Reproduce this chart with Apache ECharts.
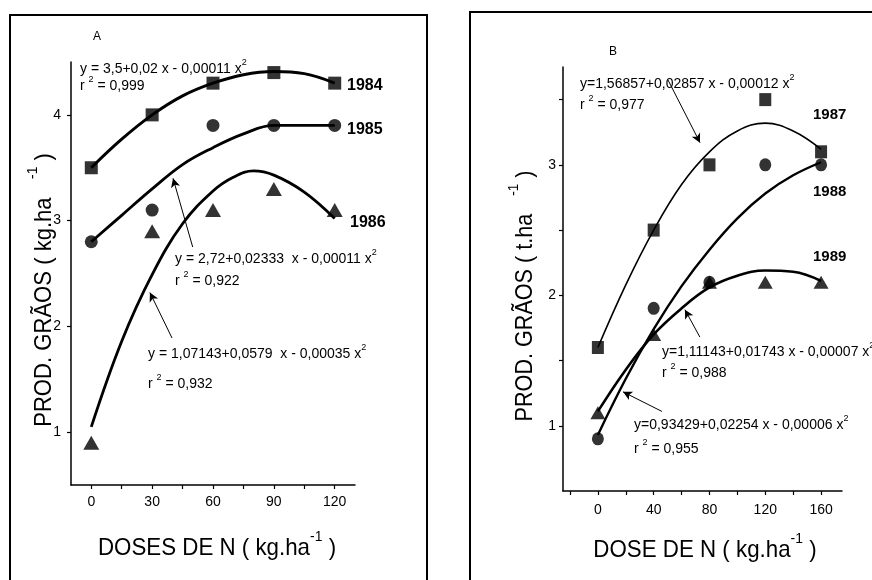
<!DOCTYPE html>
<html>
<head>
<meta charset="utf-8">
<script src="https://cdn.jsdelivr.net/npm/echarts@6/dist/echarts.min.js"></script>
<style>html,body{margin:0;padding:0;background:#fff;}#c{width:872px;height:580px;}</style>
</head>
<body>
<div id="c"></div>
<script>
// ---- Panel A data (kg/ha doses 0-120) ----
const dosesA = [0, 30, 60, 90, 120];
const y1984 = [3.5, 4.0, 4.3, 4.4, 4.3];
const y1985 = [2.8, 3.1, 3.9, 3.9, 3.9];
const y1986 = [0.9, 2.9, 3.1, 3.3, 3.1];
const fitXA = [0, 15, 30, 45, 60, 75, 90, 105, 120];
const fit1984 = [3.5, 3.77, 4.0, 4.18, 4.3, 4.38, 4.41, 4.39, 4.3];
const fit1985 = [2.8, 3.05, 3.3, 3.53, 3.69, 3.82, 3.9, 3.9, 3.9];
const fitXA86 = [0, 15, 30, 45, 60, 70, 80, 90, 105, 120];
const fit1986 = [1.05, 1.86, 2.49, 2.97, 3.28, 3.41, 3.47, 3.43, 3.27, 3.02];
const xLabelsA = [0, 30, 60, 90, 120];
const xTicksA = [0, 15, 30, 45, 60, 75, 90, 105, 120];
const yLabelsA = [1, 2, 3, 4];

// ---- Panel B data (doses 0-160) ----
const dosesB = [0, 40, 80, 120, 160];
const y1987 = [1.6, 2.5, 3.0, 3.5, 3.1];
const y1988 = [0.9, 1.9, 2.1, 3.0, 3.0];
const y1989 = [1.1, 1.7, 2.1, 2.1, 2.1];
const fitXB = [0, 20, 40, 60, 80, 100, 120, 140, 160];
const fit1987 = [1.6, 2.08, 2.5, 2.85, 3.1, 3.26, 3.32, 3.26, 3.12];
const fit1988 = [0.93, 1.36, 1.74, 2.07, 2.35, 2.59, 2.78, 2.92, 3.02];
const fit1989 = [1.11, 1.43, 1.7, 1.9, 2.06, 2.15, 2.19, 2.18, 2.11];
const xLabelsB = [0, 40, 80, 120, 160];
const xTicksB = [-20, 0, 20, 40, 60, 80, 100, 120, 140, 160];
const yLabelsB = [1, 2, 3];
const yTicksB = [1, 1.5, 2, 2.5, 3, 3.5];

const FF = '"Liberation Sans", Arial, sans-serif';
const pairs = (xs, ys) => xs.map((x, i) => [x, ys[i]]);

function txt(x, y, parts, size, opts) {
  opts = opts || {};
  let s = '';
  parts.forEach(p => { s += p[1] ? '{s|' + p[0] + '}' : '{n|' + p[0] + '}'; });
  return {
    type: 'text', x: x, y: y, z: 100,
    rotation: opts.rotation || 0,
    scaleX: opts.scaleX || 1,
    style: {
      text: s,
      textAlign: opts.align || 'left',
      textVerticalAlign: 'middle',
      fill: '#000',
      rich: {
        n: { fontSize: size, fontFamily: FF, fontWeight: opts.bold ? 'bold' : 'normal', lineHeight: size * 1.3, verticalAlign: 'bottom', fill: '#000' },
        s: { fontSize: Math.round(size * 0.62), fontFamily: FF, fontWeight: opts.bold ? 'bold' : 'normal', lineHeight: size * 1.3, verticalAlign: 'top', fill: '#000' }
      }
    }
  };
}

function arrow(xi, yi, p0, p1) {
  return {
    type: 'line', xAxisIndex: xi, yAxisIndex: yi, data: [], silent: true,
    markLine: {
      silent: true, animation: false,
      symbol: ['none', 'arrow'], symbolSize: [7, 9],
      lineStyle: { color: '#000', width: 1, type: 'solid' },
      label: { show: false },
      data: [[{ coord: p0 }, { coord: p1 }]]
    }
  };
}

const axisCommon = {
  axisLine: { show: true, onZero: false, lineStyle: { color: '#000', width: 1.5 } },
  splitLine: { show: false },
  axisTick: { show: true, inside: false, length: 4, lineStyle: { color: '#000', width: 1.2 } },
  axisLabel: { color: '#000', fontSize: 14, fontFamily: FF }
};

const chart = echarts.init(document.getElementById('c'), null, { renderer: 'canvas' });
chart.setOption({
  backgroundColor: '#fff',
  animation: false,
  grid: [
    { left: 71, top: 62, width: 284, height: 423 },
    { left: 563, top: 67, width: 279, height: 424 }
  ],
  xAxis: [
    Object.assign({}, axisCommon, {
      gridIndex: 0, type: 'value', min: -10, max: 130,
      axisTick: Object.assign({}, axisCommon.axisTick, { customValues: xTicksA }),
      axisLabel: Object.assign({}, axisCommon.axisLabel, { margin: 10, customValues: xLabelsA })
    }),
    Object.assign({}, axisCommon, {
      gridIndex: 1, type: 'value', min: -25, max: 175,
      axisTick: Object.assign({}, axisCommon.axisTick, { customValues: xTicksB }),
      axisLabel: Object.assign({}, axisCommon.axisLabel, { margin: 12, customValues: xLabelsB })
    })
  ],
  yAxis: [
    Object.assign({}, axisCommon, {
      gridIndex: 0, type: 'value', min: 0.5, max: 4.5,
      axisTick: Object.assign({}, axisCommon.axisTick, { customValues: yLabelsA }),
      axisLabel: Object.assign({}, axisCommon.axisLabel, { margin: 10, customValues: yLabelsA })
    }),
    Object.assign({}, axisCommon, {
      gridIndex: 1, type: 'value', min: 0.5, max: 3.75,
      axisTick: Object.assign({}, axisCommon.axisTick, { customValues: yTicksB }),
      axisLabel: Object.assign({}, axisCommon.axisLabel, { margin: 7, customValues: yLabelsB })
    })
  ],
  series: [
    { type: 'line', xAxisIndex: 0, yAxisIndex: 0, data: pairs(fitXA, fit1984), smooth: 0.4, showSymbol: false, lineStyle: { color: '#000', width: 3 } },
    { type: 'line', xAxisIndex: 0, yAxisIndex: 0, data: pairs(fitXA, fit1985), smooth: 0.4, showSymbol: false, lineStyle: { color: '#000', width: 2.8 } },
    { type: 'line', xAxisIndex: 0, yAxisIndex: 0, data: pairs(fitXA86, fit1986), smooth: 0.4, showSymbol: false, lineStyle: { color: '#000', width: 2.8 } },
    { type: 'scatter', xAxisIndex: 0, yAxisIndex: 0, data: pairs(dosesA, y1984), symbol: 'rect', symbolSize: 13, itemStyle: { color: '#000' } },
    { type: 'scatter', xAxisIndex: 0, yAxisIndex: 0, data: pairs(dosesA, y1985), symbol: 'circle', symbolSize: 13, itemStyle: { color: '#000' } },
    { type: 'scatter', xAxisIndex: 0, yAxisIndex: 0, data: pairs(dosesA, y1986), symbol: 'triangle', symbolSize: [16, 14], itemStyle: { color: '#000' } },
    { type: 'line', xAxisIndex: 1, yAxisIndex: 1, data: pairs(fitXB, fit1987), smooth: 0.4, showSymbol: false, lineStyle: { color: '#000', width: 1.6 } },
    { type: 'line', xAxisIndex: 1, yAxisIndex: 1, data: pairs(fitXB, fit1988), smooth: 0.4, showSymbol: false, lineStyle: { color: '#000', width: 2.4 } },
    { type: 'line', xAxisIndex: 1, yAxisIndex: 1, data: pairs(fitXB, fit1989), smooth: 0.4, showSymbol: false, lineStyle: { color: '#000', width: 2.6 } },
    { type: 'scatter', xAxisIndex: 1, yAxisIndex: 1, data: pairs(dosesB, y1987), symbol: 'rect', symbolSize: [12, 13], itemStyle: { color: '#000' } },
    { type: 'scatter', xAxisIndex: 1, yAxisIndex: 1, data: pairs(dosesB, y1988), symbol: 'circle', symbolSize: [12, 13], itemStyle: { color: '#000' } },
    { type: 'scatter', xAxisIndex: 1, yAxisIndex: 1, data: pairs(dosesB, y1989), symbol: 'triangle', symbolSize: [15, 13], itemStyle: { color: '#000' } },
    arrow(0, 0, [50, 2.75], [40.3, 3.40]),
    arrow(0, 0, [39.8, 1.89], [28.9, 2.32]),
    arrow(1, 1, [50.3, 3.65], [73.2, 3.17]),
    arrow(1, 1, [73.1, 1.68], [62.4, 1.89]),
    arrow(1, 1, [45.9, 1.11], [18, 1.26])
  ],
  graphic: [
    { type: 'rect', z: 0, shape: { x: 10, y: 15, width: 417, height: 600 }, style: { fill: 'none', stroke: '#000', lineWidth: 2 } },
    { type: 'rect', z: 0, shape: { x: 470, y: 12, width: 440, height: 600 }, style: { fill: 'none', stroke: '#000', lineWidth: 2 } },
    txt(97, 35, [['A', false]], 12, { align: 'center' }),
    txt(613, 50, [['B', false]], 12, { align: 'center' }),
    txt(217, 545, [['DOSES DE N ( kg.ha', false], ['-1', true], [' )', false]], 24, { align: 'center', scaleX: 0.93 }),
    txt(705, 547, [['DOSE DE N ( kg.ha', false], ['-1', true], [' )', false]], 24, { align: 'center', scaleX: 0.93 }),
    txt(41, 290, [['PROD. GRÃOS ( kg.ha   ', false], ['-1', true], [' )', false]], 24, { align: 'center', scaleX: 0.92, rotation: Math.PI / 2 }),
    txt(522, 296, [['PROD. GRÃOS ( t.ha   ', false], ['-1', true], [' )', false]], 24, { align: 'center', scaleX: 0.9, rotation: Math.PI / 2 }),
    txt(347, 83, [['1984', false]], 16, { bold: true }),
    txt(347, 127, [['1985', false]], 16, { bold: true }),
    txt(350, 220, [['1986', false]], 16, { bold: true }),
    txt(813, 113, [['1987', false]], 15, { bold: true }),
    txt(813, 190, [['1988', false]], 15, { bold: true }),
    txt(813, 255, [['1989', false]], 15, { bold: true }),
    txt(80, 67, [['y = 3,5+0,02 x - 0,00011 x', false], ['2', true]], 14),
    txt(80, 84, [['r ', false], ['2', true], [' = 0,999', false]], 14),
    txt(175, 257, [['y = 2,72+0,02333  x - 0,00011 x', false], ['2', true]], 14),
    txt(175, 279, [['r ', false], ['2', true], [' = 0,922', false]], 14),
    txt(148, 352, [['y = 1,07143+0,0579  x - 0,00035 x', false], ['2', true]], 14),
    txt(148, 382, [['r ', false], ['2', true], [' = 0,932', false]], 14),
    txt(580, 82, [['y=1,56857+0,02857 x - 0,00012 x', false], ['2', true]], 14),
    txt(580, 103, [['r ', false], ['2', true], [' = 0,977', false]], 14),
    txt(662, 350, [['y=1,11143+0,01743 x - 0,00007 x', false], ['2', true]], 14),
    txt(662, 371, [['r ', false], ['2', true], [' = 0,988', false]], 14),
    txt(634, 423, [['y=0,93429+0,02254 x - 0,00006 x', false], ['2', true]], 14),
    txt(634, 447, [['r ', false], ['2', true], [' = 0,955', false]], 14)
  ]
});
</script>
</body>
</html>
